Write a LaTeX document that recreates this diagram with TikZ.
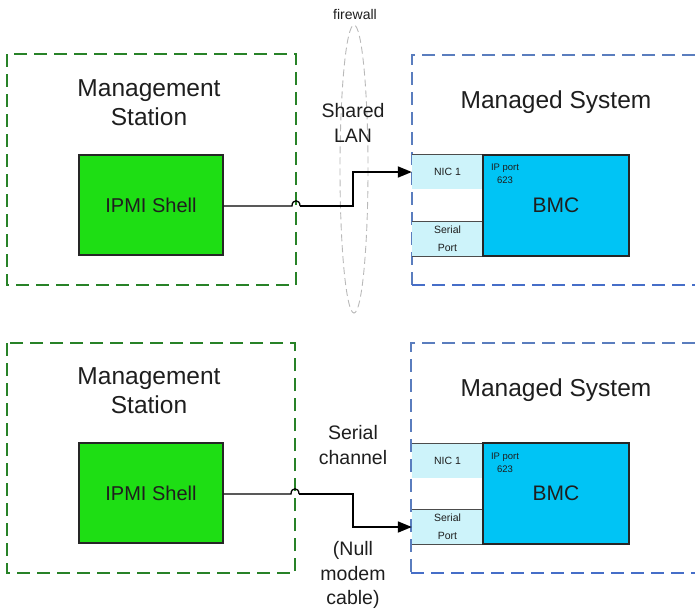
\documentclass[tikz,border=0pt]{standalone}
\usepackage{fontspec}
\setmainfont{Liberation Sans}
\usetikzlibrary{arrows.meta,shapes.geometric}
\definecolor{grnline}{RGB}{40,130,40}
\definecolor{bluline}{RGB}{90,125,190}
\definecolor{bluline2}{RGB}{70,110,200}
\definecolor{ipmifill}{RGB}{30,222,20}
\definecolor{bmcfill}{RGB}{0,196,245}
\definecolor{portfill}{RGB}{205,243,250}
\definecolor{txt}{RGB}{30,30,30}
\tikzset{
  grnbox/.style={draw=grnline,line width=2.3pt,dash pattern=on 13pt off 7pt},
  blubox/.style={draw=bluline,line width=2.3pt,dash pattern=on 13pt off 7pt},
  ipmi/.style={draw=black!85,line width=1.2pt,fill=ipmifill,minimum width=144pt,minimum height=100pt,inner sep=0pt,font=\fontsize{20}{22}\selectfont,text=txt},
  bmc/.style={draw=black!85,line width=1.2pt,fill=bmcfill,minimum width=146pt,minimum height=101pt,inner sep=0pt,font=\fontsize{21}{24}\selectfont,text=txt},
  port/.style={fill=portfill,minimum width=71pt,minimum height=34pt,inner sep=0pt,align=center,font=\fontsize{10.5}{18}\selectfont,text=txt},
  portline/.style={draw=black!70,line width=0.8pt},
  bigtxt/.style={align=center,font=\fontsize{24.5}{29}\selectfont,text=txt,inner sep=0pt},
  midtxt/.style={align=center,font=\fontsize{19.5}{24.5}\selectfont,text=txt,inner sep=0pt},
  smalltxt/.style={align=center,font=\fontsize{9.5}{13}\selectfont,text=txt,inner sep=0pt},
  wire/.style={draw=black,line width=1.8pt,line join=miter},
  tip/.style={-{Triangle[length=14pt,width=11pt]}},
}
\begin{document}
\begin{tikzpicture}[x=1pt,y=-1pt]
\useasboundingbox (0,0) rectangle (695,608);

% firewall
\draw[gray!55,line width=0.9pt,dash pattern=on 7pt off 4pt] (354,169) ellipse [x radius=14, y radius=144];
\node[font=\fontsize{14}{16}\selectfont,text=txt] (fw) at (355,14) {firewall};

% ---------- top half ----------
\draw[grnbox] (7,54) rectangle (296,285);
\draw[blubox] (695,55) -- (412,55) -- (412,285);
\draw[draw=bluline2,line width=2.3pt,dash pattern=on 13pt off 7pt] (412,285) -- (695,285);

\node[bigtxt] (ms1) at (149,103) {Management\\Station};
\node[bigtxt] (sys1) at (556,102) {Managed System};
\node[ipmi] (ipmi1) at (151,205) {IPMI Shell};

\node[port] (nic1) at (447.5,172) {NIC 1};
\node[port] (ser1) at (447.5,239) {Serial\\Port};
\draw[portline] (nic1.north west) -- (nic1.north east);
\draw[portline] (ser1.north west) -- (ser1.north east);
\draw[portline] (ser1.south west) -- (ser1.south east);
\node[bmc] (bmc1) at (556,205.5) {BMC};
\node[smalltxt] (ip1) at (505,174) {IP port\\623};

\node[midtxt] (lan) at (353,123) {Shared\\LAN};

\coordinate (h1a) at (292,206);
\coordinate (h1b) at (300,206);
\coordinate (k1) at (353,206);
\draw[wire,line width=1.3pt] (ipmi1.east |- h1a) -- (h1a) .. controls (292,199) and (300,199) .. (h1b);
\draw[wire,tip] (h1b) -- (k1) |- (nic1.west);

% ---------- bottom half ----------
\draw[grnbox] (7,343) rectangle (295,573);
\draw[blubox] (695,343) -- (411,343) -- (411,573);
\draw[draw=bluline2,line width=2.3pt,dash pattern=on 13pt off 7pt] (411,573) -- (695,573);

\node[bigtxt] (ms2) at (149,391) {Management\\Station};
\node[bigtxt] (sys2) at (556,390) {Managed System};
\node[ipmi] (ipmi2) at (151,493) {IPMI Shell};

\node[port] (nic2) at (447.5,460.5) {NIC 1};
\node[port] (ser2) at (447.5,527) {Serial\\Port};
\draw[portline] (nic2.north west) -- (nic2.north east);
\draw[portline] (ser2.north west) -- (ser2.north east);
\draw[portline] (ser2.south west) -- (ser2.south east);
\node[bmc] (bmc2) at (556,493.5) {BMC};
\node[smalltxt] (ip2) at (505,463) {IP port\\623};

\node[midtxt] (serch) at (353,445) {Serial\\channel};
\node[midtxt] (nullm) at (353,575) {(Null\\modem\\cable)};

\coordinate (h2a) at (291,494);
\coordinate (h2b) at (299,494);
\coordinate (k2) at (353,494);
\draw[wire,line width=1.3pt] (ipmi2.east |- h2a) -- (h2a) .. controls (291,487) and (299,487) .. (h2b);
\draw[wire,tip] (h2b) -- (k2) |- (ser2.west);
\end{tikzpicture}
\end{document}
